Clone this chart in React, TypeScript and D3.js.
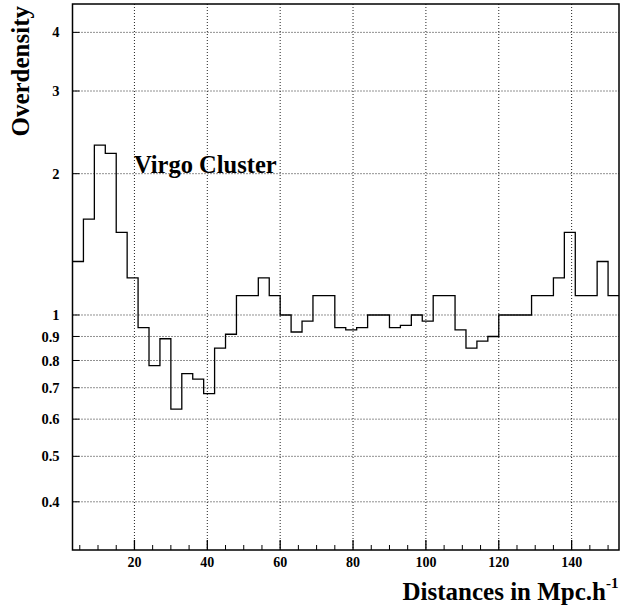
import React from "react";
import * as d3 from "d3";

// histogram: 50 bins of width 3 Mpc/h starting at 3
const binStart = 3;
const binWidth = 3;
const overdensity = [
  1.3, 1.6, 2.3, 2.21, 1.5, 1.2, 0.94, 0.78, 0.89, 0.63,
  0.75, 0.73, 0.68, 0.85, 0.91, 1.1, 1.1, 1.2, 1.1, 1.0,
  0.92, 0.97, 1.1, 1.1, 0.94, 0.93, 0.94, 1.0, 1.0, 0.94,
  0.95, 1.0, 0.97, 1.1, 1.1, 0.93, 0.85, 0.88, 0.9, 1.0,
  1.0, 1.0, 1.1, 1.1, 1.2, 1.5, 1.1, 1.1, 1.3, 1.1,
];

const xTicks = [20, 40, 60, 80, 100, 120, 140];
const yTicks = [0.4, 0.5, 0.6, 0.7, 0.8, 0.9, 1, 2, 3, 4];

const W = 620;
const H = 612;
const margin = { left: 72.5, right: 1, top: 4, bottom: 62 };
const font = "'Liberation Serif', 'Times New Roman', serif";

const App = () => {
  const svgRef = React.useRef<SVGSVGElement>(null);

  React.useEffect(() => {
    const xScale = d3
      .scaleLinear()
      .domain([binStart, binStart + binWidth * overdensity.length])
      .range([margin.left, W - margin.right]);
    const yScale = d3
      .scaleLog()
      .domain([0.3158, 4.597])
      .range([H - margin.bottom, margin.top]);

    const svgEl = d3.select(svgRef.current);
    svgEl.selectAll("*").remove();
    const svg = svgEl.append("g");

    const x0 = xScale.range()[0];
    const x1 = xScale.range()[1];
    const y0 = yScale.range()[0];
    const y1 = yScale.range()[1];

    // dotted grid
    svg
      .selectAll(".vgrid")
      .data(xTicks)
      .enter()
      .append("line")
      .attr("x1", (d) => xScale(d))
      .attr("x2", (d) => xScale(d))
      .attr("y1", y1)
      .attr("y2", y0)
      .attr("stroke", "#222")
      .attr("stroke-width", 1)
      .attr("stroke-dasharray", "1,2");
    svg
      .selectAll(".hgrid")
      .data(yTicks)
      .enter()
      .append("line")
      .attr("x1", x0)
      .attr("x2", x1)
      .attr("y1", (d) => yScale(d))
      .attr("y2", (d) => yScale(d))
      .attr("stroke", "#222")
      .attr("stroke-width", 1)
      .attr("stroke-dasharray", "1,2");

    // histogram step line
    const pts = overdensity.map((v, i) => ({ x: binStart + i * binWidth, y: v }));
    pts.push({ x: binStart + overdensity.length * binWidth, y: overdensity[overdensity.length - 1] });
    const line = d3
      .line<{ x: number; y: number }>()
      .x((d) => xScale(d.x))
      .y((d) => yScale(d.y))
      .curve(d3.curveStepAfter);
    svg
      .append("path")
      .attr("d", line(pts))
      .attr("fill", "none")
      .attr("stroke", "#000")
      .attr("stroke-width", 1.3);

    // frame
    svg
      .append("rect")
      .attr("x", x0)
      .attr("y", y1)
      .attr("width", x1 - x0)
      .attr("height", y0 - y1)
      .attr("fill", "none")
      .attr("stroke", "#000")
      .attr("stroke-width", 1.5);

    // x ticks (major + minor)
    const minor = d3.range(5, 153, 5).filter((d) => d % 20 !== 0);
    svg
      .selectAll(".xminor")
      .data(minor)
      .enter()
      .append("line")
      .attr("x1", (d) => xScale(d))
      .attr("x2", (d) => xScale(d))
      .attr("y1", y0)
      .attr("y2", y0 - 5)
      .attr("stroke", "#000");
    svg
      .selectAll(".xmajor")
      .data(xTicks)
      .enter()
      .append("line")
      .attr("x1", (d) => xScale(d))
      .attr("x2", (d) => xScale(d))
      .attr("y1", y0)
      .attr("y2", y0 - 10)
      .attr("stroke", "#000")
      .attr("stroke-width", 1.3);
    svg
      .selectAll(".xlab")
      .data(xTicks)
      .enter()
      .append("text")
      .attr("x", (d) => xScale(d))
      .attr("y", 566.5)
      .attr("text-anchor", "middle")
      .attr("font-family", font)
      .attr("font-weight", "bold")
      .attr("font-size", 14)
      .text((d) => d);

    // y ticks
    svg
      .selectAll(".ytick")
      .data(yTicks)
      .enter()
      .append("line")
      .attr("x1", x0)
      .attr("x2", x0 + 7)
      .attr("y1", (d) => yScale(d))
      .attr("y2", (d) => yScale(d))
      .attr("stroke", "#000");
    svg
      .selectAll(".ylab")
      .data(yTicks)
      .enter()
      .append("text")
      .attr("x", 59.5)
      .attr("y", (d) => yScale(d))
      .attr("dy", "0.35em")
      .attr("text-anchor", "end")
      .attr("font-family", font)
      .attr("font-weight", "bold")
      .attr("font-size", 14.5)
      .text((d) => d);

    // annotation
    svg
      .append("text")
      .attr("x", 134)
      .attr("y", 173)
      .attr("font-family", font)
      .attr("font-weight", "bold")
      .attr("font-size", 24.5)
      .text("Virgo Cluster");

    // axis titles
    svg
      .append("text")
      .attr("transform", "translate(29,6) rotate(-90)")
      .attr("text-anchor", "end")
      .attr("font-family", font)
      .attr("font-weight", "bold")
      .attr("font-size", 25)
      .text("Overdensity");

    svg
      .append("text")
      .attr("x", 606)
      .attr("y", 600)
      .attr("text-anchor", "end")
      .attr("font-family", font)
      .attr("font-weight", "bold")
      .attr("font-size", 25)
      .text("Distances in Mpc.h");
    svg
      .append("text")
      .attr("x", 606)
      .attr("y", 588)
      .attr("font-family", font)
      .attr("font-weight", "bold")
      .attr("font-size", 15)
      .text("-1");
  }, []);

  return (
    <svg
      ref={svgRef}
      width={W}
      height={H}
      style={{ position: "absolute", left: 0, top: 0, background: "#fff" }}
    />
  );
};

export default App;
